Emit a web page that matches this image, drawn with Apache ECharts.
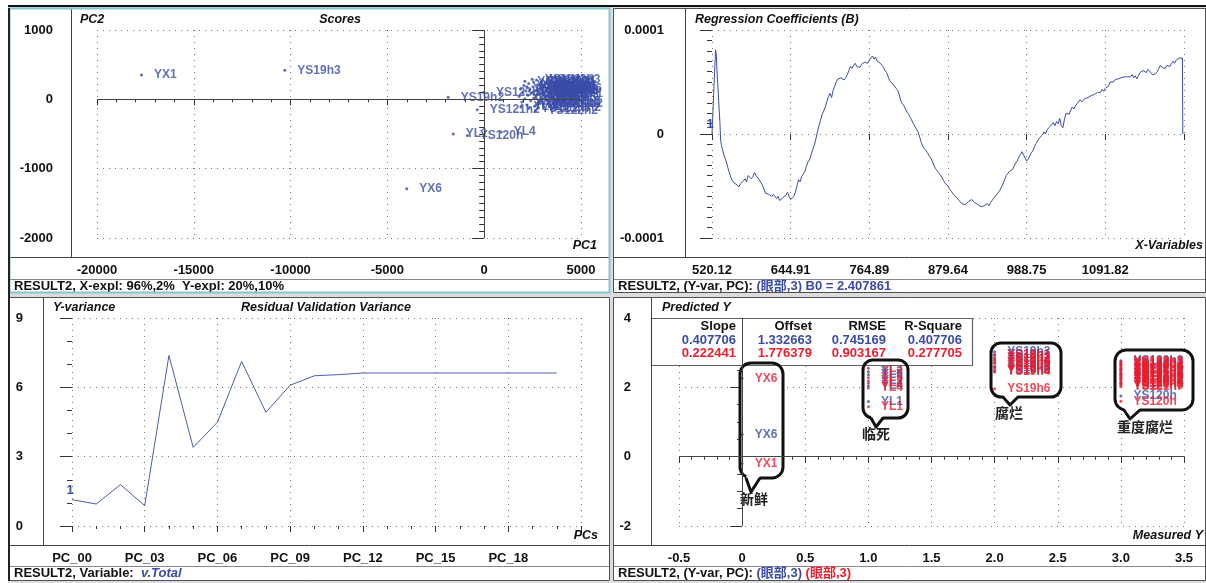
<!DOCTYPE html>
<html><head><meta charset="utf-8">
<script src="https://cdn.jsdelivr.net/npm/echarts@6/dist/echarts.min.js"></script>
<style>html,body{margin:0;padding:0;background:#fff;}#c{width:1206px;height:583px;}</style>
</head><body><div id="c"></div>
<script>
// ---------------- DATA ----------------
// Scores plot (PC1, PC2, sample)
const scores = [
  [-17700, 350, 'YX1'], [-10300, 420, 'YS19h3'], [-4000, -1290, 'YX6'],
  [-1860, 30, 'YS19h2'], [-40, 100, 'YS123h'], [-360, -150, 'YS121h2'],
  [-1600, -500, 'YL1'], [-870, -520, 'YS120h'], [880, -470, 'YL4'],
  [1800, 40, 'YS120h1'], [1880, 150, 'YS121h1'], [1950, -40, 'YS19h5'], [2000, 90, 'YS122h1'],
  [2050, 200, 'YS120h2'], [2100, 10, 'YS121h4'], [2150, 120, 'YS122h2'], [2200, -80, 'YL2'],
  [2250, 60, 'YS120h3'], [2300, 230, 'YS121h5'], [2350, 140, 'YS122h4'], [2400, -20, 'YS19h1'],
  [2450, 90, 'YS120h4'], [2480, 290, 'YS122h3'], [2520, 180, 'YS121h6'], [2560, 20, 'YS122h5'],
  [2600, -100, 'YL3'], [2650, 120, 'YS120h5'], [2700, 60, 'YS121h3'], [2750, 210, 'YS19h6'],
  [2800, -30, 'YS122h6'], [2850, 150, 'YS120h6'], [2900, 80, 'YS121h1'], [2950, 250, 'YS1h3'],
  [3000, 0, 'YL5'], [3050, 110, 'YS19h4'], [2980, 190, 'YS12h1'], [2900, -60, 'YS121h2'],
  [3050, 70, 'YS1'], [2100, 260, 'YS19h1'], [2300, -130, 'YS121h7'], [2650, -160, 'YS122h2'],
  [2800, -120, 'YS120h2'], [2700, 280, 'YS1Y2h3'], [2200, 180, 'YS122h1'], [2550, 250, 'YS120h1'],
  [2750, -60, 'YS121h4'], [2900, 160, 'YS19h3'], [1900, -110, 'YL6']
];

// Regression coefficients: [variable index, B in units of 1e-5]
const coefUnit = 1e-5;
const regCoef = [
  [0,0],[5,0],[9,8.1],[11,7.6],[13,5.8],[15,4.6],[17,3.2],[20,1.2],[22,-0.6],[24,-1.1],[28,-1.7],[32,-2.2],[36,-2.6],
  [40,-3.2],[44,-3.7],[48,-4.2],[52,-4.5],[56,-4.7],[60,-4.6],[64,-4.9],[68,-5.1],[72,-4.8],[76,-4.9],
  [80,-4.5],[84,-4.3],[88,-4.6],[92,-4.0],[96,-3.9],[100,-4.3],[104,-4.1],[108,-3.7],[112,-4.0],[116,-3.9],
  [120,-4.4],[124,-4.5],[128,-4.9],[132,-5.3],[136,-5.7],[140,-5.6],[144,-5.8],[148,-5.7],[152,-6.0],
  [156,-5.8],[160,-5.9],[164,-6.2],[168,-6.0],[172,-6.4],[176,-6.5],[180,-6.1],[184,-6.2],[188,-5.9],
  [192,-5.6],[196,-6.0],[200,-6.3],[204,-6.4],[208,-6.0],[212,-5.6],[216,-5.0],[220,-4.4],[224,-4.6],
  [228,-4.1],[232,-4.0],[236,-3.6],[240,-3.1],[244,-2.7],[248,-2.5],[252,-2.0],[256,-1.5],[260,-1.1],
  [264,-0.5],[268,0.2],[272,0.8],[276,1.3],[280,1.9],[284,2.2],[288,2.6],[292,3.1],[296,3.6],[300,3.9],
  [304,3.5],[308,4.2],[312,4.6],[316,5.0],[320,5.3],[324,5.2],[328,5.4],[332,5.5],[336,5.2],[340,5.4],
  [344,5.7],[348,6.1],[352,6.5],[356,6.3],[360,6.6],[364,6.8],[368,6.5],[372,6.6],[376,6.4],[380,6.7],
  [384,6.6],[388,6.9],[392,7.0],[396,6.8],[400,7.1],[404,7.3],[408,7.5],[412,7.2],[416,7.4],[420,7.0],
  [424,7.1],[428,6.8],[432,6.6],[436,6.4],[440,6.1],[444,5.9],[448,5.5],[452,5.1],[456,5.0],[460,4.8],
  [464,4.9],[468,4.4],[472,4.2],[476,3.8],[480,3.2],[484,2.9],[488,2.7],[492,2.4],[496,2.1],[500,1.9],
  [504,1.6],[508,1.5],[512,1.0],[516,0.7],[520,0.6],[524,0.2],[528,-0.3],[532,-0.8],[536,-1.2],[540,-1.4],
  [544,-1.3],[548,-1.8],[552,-2.1],[556,-2.3],[560,-2.6],[564,-3.0],[568,-3.3],[572,-3.4],[576,-3.7],
  [580,-3.9],[584,-4.0],[588,-4.4],[592,-4.7],[596,-4.8],[600,-5.0],[604,-5.3],[608,-5.5],[612,-5.6],
  [616,-5.9],[620,-6.0],[624,-6.2],[628,-6.4],[632,-6.5],[636,-6.7],[640,-6.6],[644,-6.8],[648,-6.7],
  [652,-6.5],[656,-6.6],[660,-6.3],[664,-6.4],[668,-6.6],[672,-6.5],[676,-6.8],[680,-6.9],[684,-7.0],
  [688,-7.1],[692,-6.9],[696,-7.0],[700,-6.7],[704,-6.9],[708,-6.6],[712,-6.4],[716,-6.3],[720,-6.0],
  [724,-5.9],[728,-5.6],[732,-5.4],[736,-5.1],[740,-4.8],[744,-4.4],[748,-4.0],[752,-3.8],[756,-3.6],
  [760,-3.7],[764,-3.4],[768,-3.1],[772,-2.8],[776,-2.6],[780,-2.2],[784,-2.0],[788,-1.7],[792,-1.8],
  [796,-2.3],[800,-2.6],[804,-2.4],[808,-2.1],[812,-1.8],[816,-1.6],[820,-1.2],[824,-0.9],[828,-0.8],
  [832,-0.4],[836,-0.5],[840,-0.1],[844,0.2],[848,0.0],[852,0.4],[856,0.6],[860,0.5],[864,0.9],[868,1.1],
  [872,0.8],[876,1.2],[880,1.0],[884,1.5],[888,0.8],[892,0.6],[896,1.4],[900,2.0],[904,2.1],[908,1.9],
  [912,2.3],[916,2.6],[920,2.4],[924,2.7],[928,2.9],[932,3.0],[936,3.3],[940,3.1],[944,3.2],[948,3.4],
  [952,3.3],[956,3.5],[960,3.4],[964,3.7],[968,3.6],[972,3.8],[976,3.7],[980,4.0],[984,4.1],[988,4.0],
  [992,4.3],[996,4.1],[1000,4.4],[1004,4.3],[1008,4.6],[1012,5.0],[1016,5.1],[1020,5.0],[1024,5.2],
  [1028,5.1],[1032,5.3],[1036,5.2],[1040,5.4],[1044,5.3],[1048,5.5],[1052,5.4],[1056,5.5],[1060,5.6],
  [1064,5.5],[1068,5.7],[1072,5.4],[1076,5.6],[1080,5.3],[1084,5.6],[1088,5.9],[1092,5.8],[1096,6.1],
  [1100,6.0],[1104,5.9],[1108,6.2],[1112,6.1],[1116,5.9],[1120,5.7],[1124,5.6],[1128,5.8],[1132,6.0],
  [1136,6.3],[1140,6.6],[1144,6.4],[1148,6.5],[1152,6.3],[1156,6.6],[1160,6.7],[1164,6.5],[1168,6.8],
  [1172,7.0],[1176,6.8],[1180,7.1],[1184,7.0],[1188,7.3],[1192,7.2],[1196,7.3],[1197,0]
];
const wavelengthTicks = ['520.12', '644.91', '764.89', '879.64', '988.75', '1091.82', ''];

// Residual validation variance per PC
const pcLabels = ['PC_00','PC_01','PC_02','PC_03','PC_04','PC_05','PC_06','PC_07','PC_08','PC_09','PC_10',
  'PC_11','PC_12','PC_13','PC_14','PC_15','PC_16','PC_17','PC_18','PC_19','PC_20','PC_21'];
const resVar = [1.14, 0.95, 1.79, 0.88, 7.38, 3.40, 4.49, 7.12, 4.92, 6.09, 6.50, 6.55, 6.62,
  6.62, 6.62, 6.62, 6.62, 6.62, 6.62, 6.62, 6.62];

// Predicted vs measured: [measured, predicted, sample]
const calPred = [
  [0, 0.64, 'YX6'],
  [1, 2.45, 'YL3'], [1, 2.36, 'YL5'], [1, 2.18, 'YL2'], [1, 2.04, 'YL4'], [1, 1.59, 'YL1'],
  [2, 3.03, 'YS19h3'], [2, 2.93, 'YS19h1'], [2, 2.82, 'YS19h2'], [2, 2.72, 'YS19h4'], [2, 2.58, 'YS19h5'], [2, 2.47, 'YS19h6'],
  [3, 2.77, 'YS122h3'], [3, 2.66, 'YS122h1'], [3, 2.52, 'YS121h2'], [3, 2.40, 'YS121h1'], [3, 2.28, 'YS120h2'],
  [3, 2.12, 'YS120h1'], [3, 1.75, 'YS120h']
];
const valPred = [
  [0, 2.26, 'YX6'], [0, -0.20, 'YX1'],
  [1, 2.55, 'YL3'], [1, 2.28, 'YL5'], [1, 2.12, 'YL2'], [1, 1.98, 'YL4'], [1, 1.44, 'YL1'],
  [2, 2.95, 'YS19h1'], [2, 2.86, 'YS19h2'], [2, 2.78, 'YS19h4'], [2, 2.69, 'YS19h5'], [2, 2.61, 'YS19h3'],
  [2, 2.52, 'YS19h2'], [2, 2.44, 'YS19h4'], [2, 1.96, 'YS19h6'],
  [3, 2.74, 'YS122h3'], [3, 2.70, 'YS122h2'], [3, 2.67, 'YS122h1'], [3, 2.62, 'YS122h4'], [3, 2.58, 'YS122h5'],
  [3, 2.55, 'YS122h6'], [3, 2.50, 'YS121h1'], [3, 2.47, 'YS121h2'], [3, 2.43, 'YS121h3'], [3, 2.38, 'YS121h4'],
  [3, 2.35, 'YS121h5'], [3, 2.31, 'YS121h6'], [3, 2.26, 'YS120h1'], [3, 2.22, 'YS120h2'], [3, 2.19, 'YS120h3'],
  [3, 2.14, 'YS120h4'], [3, 2.10, 'YS120h5'], [3, 2.06, 'YS120h6'], [3, 2.02, 'YS121h7'], [3, 1.60, 'YS120h']
];
const statsHeader = ['Slope', 'Offset', 'RMSE', 'R-Square'];
const statsCal = ['0.407706', '1.332663', '0.745169', '0.407706'];
const statsVal = ['0.222441', '1.776379', '0.903167', '0.277705'];
const groupNames = ['新鲜', '临死', '腐烂', '重度腐烂'];

// ---------------- STYLE / LAYOUT ----------------
const FONT = '"Liberation Sans", Arial, "Noto Sans CJK SC", sans-serif';
const CJK = '"Noto Sans CJK SC", sans-serif';
const BLUE = '#3a4ca8', RED = '#ee1c2c', TXT = '#111', AX = '#333';

function vAxis(o) {
  return {
    type: 'value', gridIndex: o.g, min: o.min, max: o.max, interval: o.iv, offset: o.off,
    axisLine: { show: false },
    axisTick: { show: true, length: o.tl, lineStyle: { color: AX } },
    minorTick: { show: !!o.minor, splitNumber: o.minor || 5, length: o.ml, lineStyle: { color: AX } },
    splitLine: { show: true, lineStyle: { color: '#7a7a7a', type: [1, 5], width: 1 } },
    axisLabel: { color: TXT, fontFamily: FONT, fontSize: 13, fontWeight: 'bold', margin: o.mg,
      formatter: o.fmt || (v => String(v)) }
  };
}
const grids = [
  { left: 97, top: 30, width: 484, height: 208 },
  { left: 712, top: 30, width: 472, height: 208 },
  { left: 72, top: 318, width: 509, height: 208 },
  { left: 679, top: 318, width: 505, height: 208 }
];
const xAxes = [
  vAxis({ g: 0, min: -20000, max: 5000, iv: 5000, off: 19, tl: 6, minor: 5, ml: 3, mg: 7 }),
  vAxis({ g: 1, min: 0, max: 1200, iv: 200, off: 19, tl: 6, mg: 7, fmt: v => wavelengthTicks[Math.round(v / 200)] }),
  vAxis({ g: 2, min: 0, max: 21, iv: 3, off: 19, tl: 6, minor: 3, ml: 3, mg: 7, fmt: v => (v <= 18 ? pcLabels[v] : '') }),
  vAxis({ g: 3, min: -0.5, max: 3.5, iv: 0.5, off: 19, tl: 6, minor: 5, ml: 3, mg: 7,
    fmt: v => { const r = Math.round(v * 10) / 10; return r === 0 ? '0' : r.toFixed(1); } })
];
const yAxes = [
  vAxis({ g: 0, min: -2000, max: 1000, iv: 1000, off: 26, tl: 12, minor: 10, ml: 5, mg: 18 }),
  vAxis({ g: 1, min: -0.0001, max: 0.0001, iv: 0.0001, off: 27, tl: 12, minor: 10, ml: 5, mg: 21,
    fmt: v => { const r = Math.round(v * 1e6) / 1e6; return r === 0 ? '0' : r.toFixed(4); } }),
  vAxis({ g: 2, min: 0, max: 9, iv: 3, off: 29, tl: 12, minor: 3, ml: 5, mg: 20 }),
  vAxis({ g: 3, min: -2, max: 4, iv: 2, off: 28, tl: 12, minor: 4, ml: 5, mg: 20 })
];
const lblStyle = c => ({ show: true, position: 'right', distance: 11, color: c, fontFamily: FONT,
  fontSize: 12, fontWeight: 'bold', formatter: p => p.data[2] });
const zeroLine = { symbol: 'none', silent: true, label: { show: false },
  lineStyle: { color: '#444', type: 'solid', width: 1 }, emphasis: { disabled: true } };
const oneMark = coord => ({ symbol: 'circle', symbolSize: 0, silent: true,
  data: [{ coord }],
  label: { show: true, formatter: '1', position: 'top', distance: 3, offset: [-2, 0], color: BLUE,
    fontFamily: FONT, fontSize: 13, fontWeight: 'bold' } });

const series = [
  { type: 'scatter', xAxisIndex: 0, yAxisIndex: 0, data: scores, symbol: 'circle', symbolSize: 3,
    itemStyle: { color: BLUE }, label: lblStyle(BLUE),
    markLine: Object.assign({ data: [{ xAxis: 0 }, { yAxis: 0 }] }, zeroLine) },
  { type: 'line', xAxisIndex: 1, yAxisIndex: 1, showSymbol: false, symbol: 'none',
    data: regCoef.map(d => [d[0], d[1] * coefUnit]),
    markPoint: oneMark([regCoef[0][0], regCoef[0][1] * coefUnit]),
    lineStyle: { color: BLUE, width: 1 } },
  { type: 'line', xAxisIndex: 2, yAxisIndex: 2, showSymbol: false, symbol: 'none',
    data: resVar.map((v, i) => [i, v]),
    markPoint: oneMark([0, resVar[0]]),
    lineStyle: { color: '#4a5db2', width: 1 } },
  { type: 'scatter', xAxisIndex: 3, yAxisIndex: 3, data: calPred, symbolSize: 3, itemStyle: { color: BLUE },
    label: lblStyle(BLUE),
    markLine: Object.assign({ data: [{ xAxis: 0 }, { yAxis: 0 }] }, zeroLine) },
  { type: 'scatter', xAxisIndex: 3, yAxisIndex: 3, data: valPred, symbolSize: 3, itemStyle: { color: RED },
    label: lblStyle(RED) }
];

// ---------------- GRAPHICS (frames, titles, table, callouts) ----------------
const G = [];
const T = (x, y, text, o = {}) => G.push({ type: 'text', x, y, z: o.z || 6, silent: true,
  style: Object.assign({ text, fill: TXT, fontFamily: FONT, fontSize: 13, fontWeight: 'bold',
    align: 'left', verticalAlign: 'middle' }, o.s || {}) });
const L = (x1, y1, x2, y2, c = '#555', w = 1, z = 6) => G.push({ type: 'line', silent: true, z,
  shape: { x1, y1, x2, y2 }, style: { stroke: c, lineWidth: w } });

// background
G.push({ type: 'rect', z: -10, silent: true, shape: { x: 0, y: 0, width: 1206, height: 583 }, style: { fill: '#ffffff' } });
G.push({ type: 'rect', z: -10, silent: true, shape: { x: 8, y: 7, width: 1198, height: 576 }, style: { fill: '#dcdcdc' } });
const panels = [
  { x: 9, y: 8, w: 601, h: 285, ya: 71.5, bot: 257.5, sep: 279.5 },
  { x: 613, y: 8, w: 593, h: 285, ya: 685.5, bot: 257.5, sep: 279.5 },
  { x: 9, y: 297, w: 601, h: 284, ya: 43.5, bot: 545.5, sep: 566.5 },
  { x: 613, y: 297, w: 593, h: 284, ya: 651.5, bot: 545.5, sep: 566.5 }
];
panels.forEach((p, i) => {
  G.push({ type: 'rect', z: -9, silent: true, shape: { x: p.x, y: p.y, width: p.w, height: p.h }, style: { fill: '#fff' } });
  L(p.ya, p.y, p.ya, p.bot, '#444');
  L(p.x, p.bot, p.x + p.w, p.bot, '#444');
  L(p.x, p.sep, p.x + p.w, p.sep, '#888');
  G.push({ type: 'rect', z: 20, silent: true, shape: { x: p.x + 0.5, y: p.y + 0.5, width: p.w - 1, height: p.h - 1 },
    style: { fill: null, stroke: i === 0 ? '#86c6cf' : '#505050', lineWidth: i === 0 ? 2 : 1 } });
});
L(8, 6, 1206, 6, '#111', 2, 21);
L(9, 8, 9, 581, '#222', 2, 21);

// titles / axis names
const it = { fontStyle: 'italic', fontSize: 12.5 };
T(80, 20, 'PC2', { s: it });
T(340, 20, 'Scores', { s: Object.assign({ align: 'center' }, it) });
T(597, 246, 'PC1', { s: Object.assign({ align: 'right' }, it) });
T(695, 20, 'Regression Coefficients (B)', { s: it });
T(1203, 246, 'X-Variables', { s: Object.assign({ align: 'right' }, it) });
T(53, 308, 'Y-variance', { s: it });
T(326, 308, 'Residual Validation Variance', { s: Object.assign({ align: 'center' }, it) });
T(598, 536, 'PCs', { s: Object.assign({ align: 'right' }, it) });
T(662, 308, 'Predicted Y', { s: it });
T(1203, 536, 'Measured Y', { s: Object.assign({ align: 'right' }, it) });

// status bars
const rich = (c, extra) => Object.assign({ fill: c, fontFamily: FONT, fontSize: 13, fontWeight: 'bold' }, extra || {});
T(14, 286, 'RESULT2, X-expl: 96%,2%  Y-expl: 20%,10%');
T(618, 286, '{a|RESULT2, (Y-var, PC): }{b|(眼部,3) B0 = 2.407861}', { s: { rich: { a: rich(TXT), b: rich(BLUE) } } });
T(14, 573, '{a|RESULT2, Variable:  }{b|v.Total}', { s: { rich: { a: rich(TXT), b: rich(BLUE, { fontStyle: 'italic' }) } } });
T(618, 573, '{a|RESULT2, (Y-var, PC): }{b|(眼部,3)}{c| (眼部,3)}', { s: { rich: { a: rich(TXT), b: rich(BLUE), c: rich(RED) } } });

// statistics table
G.push({ type: 'rect', z: 3, silent: true, shape: { x: 651.5, y: 318.5, width: 321, height: 47 },
  style: { fill: '#fff', stroke: '#606060', lineWidth: 1.2 } });
const colRight = [736, 812, 886, 962];
statsHeader.forEach((h, i) => T(colRight[i], 326, h, { z: 4, s: { align: 'right' } }));
statsCal.forEach((h, i) => T(colRight[i], 340, h, { z: 4, s: { align: 'right', fill: BLUE } }));
statsVal.forEach((h, i) => T(colRight[i], 353.5, h, { z: 4, s: { align: 'right', fill: RED } }));

// speech-bubble callouts: rounded box + tail
const bubbles = [
  { x0: 740, y0: 363, x1: 783, y1: 478, r: 11, bx0: 746, bx1: 760, tx: 751, ty: 492, lx: 754, ly: 499 },
  { x0: 863, y0: 360, x1: 908, y1: 418, r: 10, bx0: 871, bx1: 883, tx: 876, ty: 427, lx: 876, ly: 434 },
  { x0: 991, y0: 343, x1: 1061, y1: 397, r: 10, bx0: 1003, bx1: 1018, tx: 1010, ty: 405, lx: 1009, ly: 413 },
  { x0: 1115, y0: 350, x1: 1193, y1: 410, r: 11, bx0: 1124, bx1: 1140, tx: 1130, ty: 419, lx: 1145, ly: 427 }
];
bubbles.forEach((b, i) => {
  const box = { x: b.x0, y: b.y0, width: b.x1 - b.x0, height: b.y1 - b.y0, r: b.r };
  G.push({ type: 'rect', z: 1, silent: true, shape: box, style: { fill: '#fff' } });
  G.push({ type: 'rect', z: 5, silent: true, shape: box, style: { fill: null, stroke: '#111', lineWidth: 3 } });
  G.push({ type: 'polygon', z: 5, silent: true, shape: { points: [[b.bx0, b.y1 - 2], [b.tx, b.ty], [b.bx1, b.y1 - 2]] },
    style: { fill: '#fff' } });
  G.push({ type: 'polyline', z: 5, silent: true, shape: { points: [[b.bx0, b.y1], [b.tx, b.ty], [b.bx1, b.y1]] },
    style: { fill: null, stroke: '#111', lineWidth: 3, lineJoin: 'round' } });
  T(b.lx, b.ly, groupNames[i], { z: 5, s: { align: 'center', fontFamily: CJK, fontSize: 14, fontWeight: 'bold', fill: '#222' } });
});

const chart = echarts.init(document.getElementById('c'), null, { renderer: 'canvas' });
chart.setOption({
  animation: false,
  backgroundColor: 'transparent',
  grid: grids,
  xAxis: xAxes,
  yAxis: yAxes,
  series: series,
  graphic: { elements: G }
});
</script></body></html>
